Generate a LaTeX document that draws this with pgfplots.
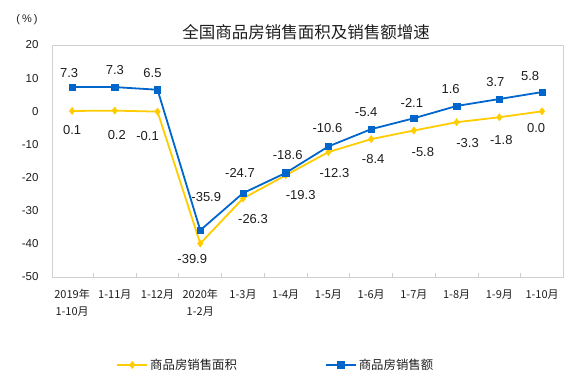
\documentclass[border=0pt]{standalone}
\usepackage{pgfplots}
\pgfplotsset{compat=1.18}
\usepackage{pgfplotstable}
\usepackage{fontspec}
\setmainfont{Liberation Sans}
\newfontfamily\cjk{Noto Sans CJK SC}
\definecolor{cblue}{RGB}{0,102,204}
\definecolor{cyellow}{RGB}{255,204,0}
\definecolor{cborder}{RGB}{208,208,208}
\definecolor{ctext}{RGB}{30,30,30}

\pgfplotstableread{
x y lab dx dy
0 7.3 7.3 -3 14
1 7.3 7.3 0 17
2 6.5 6.5 -5 17
3 -35.9 -35.9 6 33
4 -24.7 -24.7 -3 20
5 -18.6 -18.6 2 18
6 -10.6 -10.6 -1 18
7 -5.4 -5.4 -5 17
8 -2.1 -2.1 -2 15
9 1.6 1.6 -6 17
10 3.7 3.7 -4 17
11 5.8 5.8 -12 16
}\sales

\pgfplotstableread{
x y lab dx dy
0 0.1 0.1 0 -19
1 0.2 0.2 2 -24
2 -0.1 -0.1 -10 -24
3 -39.9 -39.9 -8 -16
4 -26.3 -26.3 10 -21
5 -19.3 -19.3 15 -20
6 -12.3 -12.3 6 -21
7 -8.4 -8.4 2 -20
8 -5.8 -5.8 9 -22
9 -3.3 -3.3 11 -21
10 -1.8 -1.8 2 -23
11 0.0 0.0 -6 -17
}\area

\begin{document}
\begin{tikzpicture}
\path[use as bounding box] (0,0) rectangle (578pt,385pt);
\node[font=\cjk\fontsize{16.5}{18}\selectfont, text=ctext] at (306pt,353pt) {全国商品房销售面积及销售额增速};
\node[font=\fontsize{11}{13}\selectfont, text=ctext] at (27pt,365pt) {(\hspace{2pt}\%\hspace{2pt})};
\begin{axis}[
  at={(52pt,108pt)}, anchor=south west,
  scale only axis, width=511pt, height=232pt,
  xmin=-0.47, xmax=11.49, ymin=-50, ymax=20,
  clip=false,
  axis line style={draw=cborder, line width=0.8pt},
  ytick={-50,-40,...,20},
  ytick style={draw=none},
  yticklabel style={font=\fontsize{11.5}{13}\selectfont, text=ctext, xshift=-10pt},
  /pgf/number format/assume math mode=true,
  xtick={0,...,11},
  xticklabels={{2019年\\1-10月},1-11月,1-12月,{2020年\\1-2月},1-3月,1-4月,1-5月,1-6月,1-7月,1-8月,1-9月,1-10月},
  xticklabel style={font=\cjk\fontsize{11}{17}\selectfont, text=ctext, align=center, yshift=-9pt},
  major x tick style={draw=none},
  minor xtick={0.5,1.5,...,10.5},
  minor x tick style={draw=cborder, line width=0.8pt},
  minor tick length=4pt,
  xtick pos=lower, tick align=inside,
  nodes near coords,
  point meta=explicit symbolic,
  visualization depends on={\thisrow{dx}\as\dx},
  visualization depends on={\thisrow{dy}\as\dy},
  every node near coord/.append style={font=\fontsize{13}{15}\selectfont, text=ctext, anchor=center, xshift=\dx pt, yshift=\dy pt},
  legend columns=2,
  legend style={at={(0.438,-0.379)}, anchor=center, draw=none, fill=none,
    font=\cjk\fontsize{12.4}{14}\selectfont, text=ctext,
    /tikz/every even column/.append style={column sep=86pt},
    nodes={inner sep=2pt}},
  legend image code/.code={\draw[mark repeat=2,mark phase=2,#1] plot coordinates {(0pt,0pt) (15pt,0pt) (30pt,0pt)};},
]
\addplot[color=cyellow, line width=1.8pt, mark=diamond*, mark size=3.6pt, mark options={solid, fill=cyellow, line width=0.5pt}]
  table[x=x, y=y, meta=lab] {\area};
\addlegendentry{商品房销售面积}
\addplot[color=cblue, line width=1.8pt, mark=square*, mark size=3.2pt, mark options={solid, fill=cblue, line width=0.5pt}]
  table[x=x, y=y, meta=lab] {\sales};
\addlegendentry{商品房销售额}
\end{axis}
\end{tikzpicture}
\end{document}
